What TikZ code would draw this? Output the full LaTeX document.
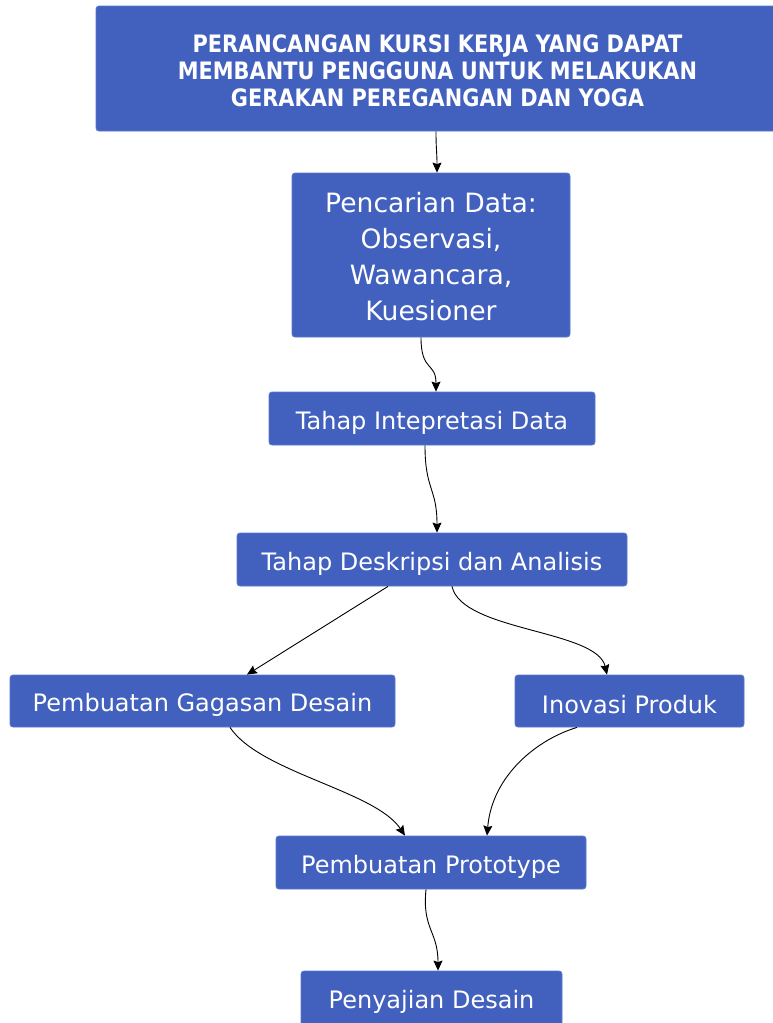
\documentclass[tikz,border=0pt]{standalone}
\usepackage{fontspec}
\setmainfont{DejaVu Sans}
\newfontfamily\titlefont{DejaVu Sans}[FakeStretch=0.87]
\usetikzlibrary{arrows.meta}
\definecolor{boxblue}{RGB}{66,96,190}
\definecolor{boxedge}{RGB}{90,120,205}
\newcommand{\lowtext}[1]{\raisebox{-4pt}[\height][\depth]{#1}}
\tikzset{
  box/.style={draw=boxedge, line width=0.8pt, fill=boxblue, rounded corners=3pt, text=white, align=center, inner sep=0pt, font=\fontsize{24}{28}\selectfont},
  conn/.style={draw=black, line width=0.9pt, -{Stealth[length=10pt,width=9pt,inset=1.5pt]}}
}
\begin{document}
\begin{tikzpicture}[x=1pt,y=-1pt]
\clip (0,0) rectangle (773,1023);
\useasboundingbox (0,0) rectangle (773,1023);
\fill[white] (0,0) rectangle (773,1023);

\node[box, minimum width=690pt, minimum height=125pt] (title) at (441,68.5) {};
\node[text=white, align=center, font=\titlefont\bfseries\fontsize{24}{27}\selectfont] (titletext) at (437.5,71) {PERANCANGAN KURSI KERJA YANG DAPAT\\MEMBANTU PENGGUNA UNTUK MELAKUKAN\\GERAKAN PEREGANGAN DAN YOGA};

\node[box, minimum width=278pt, minimum height=164pt, font=\fontsize{26.6}{36}\selectfont] (pen) at (431,255) {\lowtext{\begin{tabular}{@{}c@{}}Pencarian Data:\\Observasi,\\Wawancara,\\Kuesioner\end{tabular}}};
\node[box, minimum width=326pt, minimum height=53pt] (interp) at (432,418.5) {\lowtext{Tahap Intepretasi Data}};
\node[box, minimum width=390pt, minimum height=53pt] (desk) at (432,559.5) {\lowtext{Tahap Deskripsi dan Analisis}};
\node[box, minimum width=385pt, minimum height=52pt] (gag) at (202.5,701) {\lowtext{Pembuatan Gagasan Desain}};
\node[box, minimum width=229pt, minimum height=52pt] (ino) at (629.5,701) {\lowtext{Inovasi Produk}};
\node[box, minimum width=310pt, minimum height=53pt] (proto) at (431,862.5) {\lowtext{Pembuatan Prototype}};
\node[box, minimum width=261pt, minimum height=62pt] (pen2) at (431.5,1002) {Penyajian Desain};

\draw[conn] ([xshift=-5pt]title.south) .. controls +(0,18) and +(0,-20) .. ([xshift=6pt]pen.north);
\draw[conn] ([xshift=-10pt]pen.south) .. controls +(0,35) and +(0,-30) .. ([xshift=4pt]interp.north);
\draw[conn] ([xshift=-7pt]interp.south) .. controls +(0,45) and +(0,-45) .. ([xshift=5pt]desk.north);
\draw[conn] ([xshift=-44pt]desk.south) -- ([xshift=44.5pt]gag.north);
\draw[conn] ([xshift=20pt]desk.south) .. controls +(10,45) and +(-10,-45) .. ([xshift=-22.5pt]ino.north);
\draw[conn] ([xshift=27.5pt]gag.south) .. controls +(30,45) and +(-30,-45) .. ([xshift=-26pt]proto.north);
\draw[conn] ([xshift=-52.5pt]ino.south) .. controls +(-40,12) and +(5,-60) .. ([xshift=56pt]proto.north);
\draw[conn] ([xshift=-5pt]proto.south) .. controls +(-4,40) and +(0,-40) .. ([xshift=6.5pt]pen2.north);
\end{tikzpicture}
\end{document}
